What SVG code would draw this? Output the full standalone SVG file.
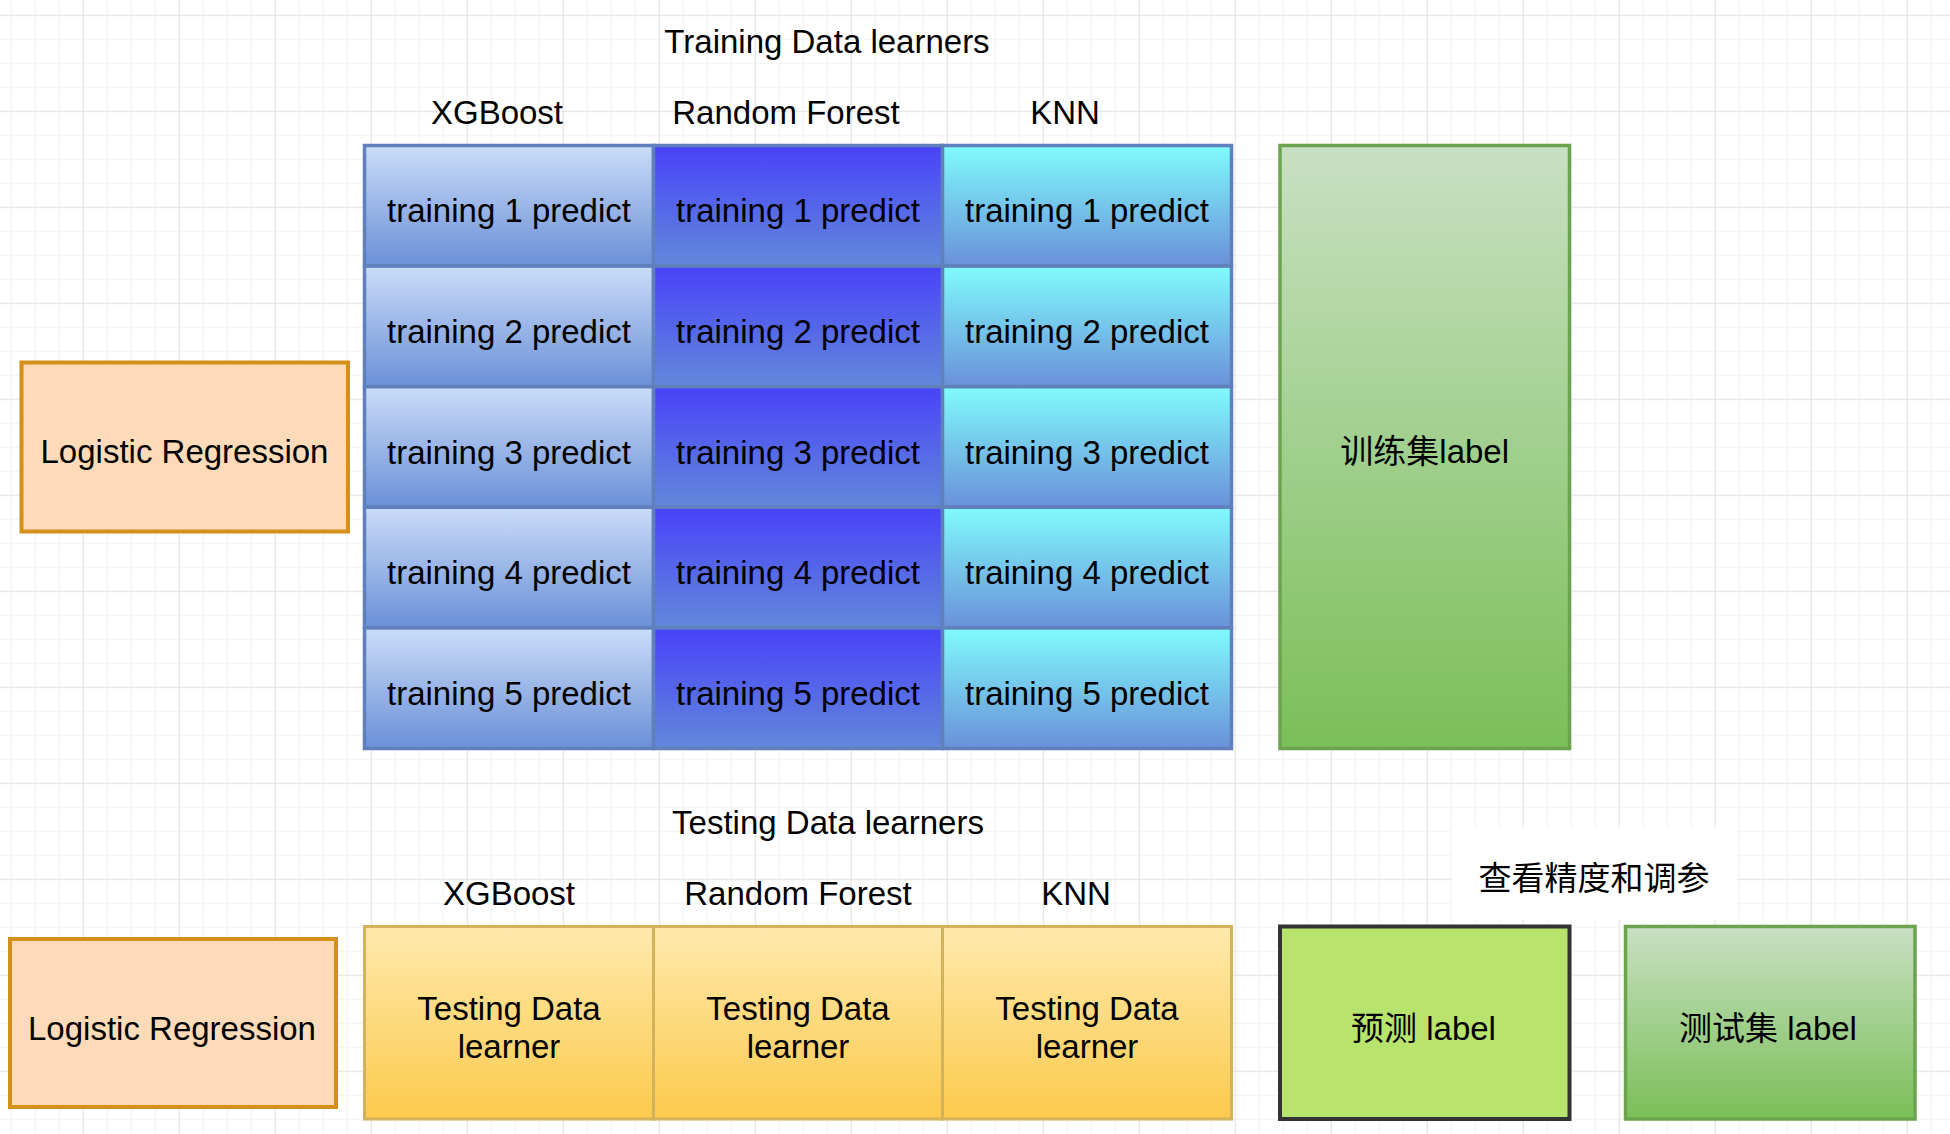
<svg xmlns="http://www.w3.org/2000/svg" width="1950" height="1134" viewBox="0 0 1950 1134">
<defs>
<pattern id="grid" patternUnits="userSpaceOnUse" x="-13.3" y="14.7" width="96" height="96">
<rect x="0" y="0" width="96" height="96" fill="#ffffff"/>
<rect x="24" y="0" width="1.2" height="96" fill="#f3f3f3"/>
<rect x="48" y="0" width="1.2" height="96" fill="#f3f3f3"/>
<rect x="72" y="0" width="1.2" height="96" fill="#f3f3f3"/>
<rect x="0" y="24" width="96" height="1.2" fill="#f3f3f3"/>
<rect x="0" y="48" width="96" height="1.2" fill="#f3f3f3"/>
<rect x="0" y="72" width="96" height="1.2" fill="#f3f3f3"/>
<rect x="0" y="0" width="1.2" height="96" fill="#e4e4e4"/>
<rect x="0" y="0" width="96" height="1.2" fill="#e4e4e4"/>
</pattern>
<linearGradient id="gXgb" x1="0" y1="0" x2="0" y2="1"><stop offset="0" stop-color="#cadcf7"/><stop offset="1" stop-color="#6b90d8"/></linearGradient>
<linearGradient id="gRf" x1="0" y1="0" x2="0" y2="1"><stop offset="0" stop-color="#4842f9"/><stop offset="1" stop-color="#6289da"/></linearGradient>
<linearGradient id="gKnn" x1="0" y1="0" x2="0" y2="1"><stop offset="0" stop-color="#80fbfc"/><stop offset="1" stop-color="#6a90da"/></linearGradient>
<linearGradient id="gGreen" x1="0" y1="0" x2="0" y2="1"><stop offset="0" stop-color="#c8e0c3"/><stop offset="1" stop-color="#7bbf58"/></linearGradient>
<linearGradient id="gTest" x1="0" y1="0" x2="0" y2="1"><stop offset="0" stop-color="#fee9ad"/><stop offset="1" stop-color="#fcca4c"/></linearGradient>
</defs>
<style>
text { font-family: "Liberation Sans", "Noto Sans CJK SC", sans-serif; font-size: 33px; fill: #000; text-anchor: middle; }
.cell { stroke: #5f80bb; stroke-width: 3.5; }
.xgb { fill: url(#gXgb); }
.rf { fill: url(#gRf); }
.knn { fill: url(#gKnn); }
.lr { fill: #fddbb8; stroke: #d4901a; stroke-width: 4; }
.green { fill: url(#gGreen); stroke: #6ca34f; stroke-width: 3.5; }
.test { fill: url(#gTest); stroke: #d2b25a; stroke-width: 3; }
.pred { fill: #b8e36d; stroke: #333333; stroke-width: 4; }
</style>
<rect x="0" y="0" width="1950" height="1134" fill="url(#grid)"/>

<g id="labels">
<text x="827" y="52.5">Training Data learners</text>
<text x="497" y="124">XGBoost</text>
<text x="786" y="124">Random Forest</text>
<text x="1065" y="124">KNN</text>
<text x="828" y="834">Testing Data learners</text>
<text x="509" y="905">XGBoost</text>
<text x="798" y="905">Random Forest</text>
<text x="1076" y="905">KNN</text>
</g>

<g id="lr-train">
<rect class="lr" x="21.5" y="362.5" width="326.5" height="169"/>
<text x="184.5" y="463">Logistic Regression</text>
</g>

<g id="training-table">
<g id="xgb-1"><rect class="cell xgb" x="364.5" y="145.5" width="289" height="120.6"/><text x="509" y="222.3">training 1 predict</text></g>
<g id="xgb-2"><rect class="cell xgb" x="364.5" y="266.1" width="289" height="120.6"/><text x="509" y="342.9">training 2 predict</text></g>
<g id="xgb-3"><rect class="cell xgb" x="364.5" y="386.7" width="289" height="120.6"/><text x="509" y="463.5">training 3 predict</text></g>
<g id="xgb-4"><rect class="cell xgb" x="364.5" y="507.3" width="289" height="120.6"/><text x="509" y="584.1">training 4 predict</text></g>
<g id="xgb-5"><rect class="cell xgb" x="364.5" y="627.9" width="289" height="120.6"/><text x="509" y="704.7">training 5 predict</text></g>

<g id="rf-1"><rect class="cell rf" x="653.5" y="145.5" width="289" height="120.6"/><text x="798" y="222.3">training 1 predict</text></g>
<g id="rf-2"><rect class="cell rf" x="653.5" y="266.1" width="289" height="120.6"/><text x="798" y="342.9">training 2 predict</text></g>
<g id="rf-3"><rect class="cell rf" x="653.5" y="386.7" width="289" height="120.6"/><text x="798" y="463.5">training 3 predict</text></g>
<g id="rf-4"><rect class="cell rf" x="653.5" y="507.3" width="289" height="120.6"/><text x="798" y="584.1">training 4 predict</text></g>
<g id="rf-5"><rect class="cell rf" x="653.5" y="627.9" width="289" height="120.6"/><text x="798" y="704.7">training 5 predict</text></g>

<g id="knn-1"><rect class="cell knn" x="942.5" y="145.5" width="289" height="120.6"/><text x="1087" y="222.3">training 1 predict</text></g>
<g id="knn-2"><rect class="cell knn" x="942.5" y="266.1" width="289" height="120.6"/><text x="1087" y="342.9">training 2 predict</text></g>
<g id="knn-3"><rect class="cell knn" x="942.5" y="386.7" width="289" height="120.6"/><text x="1087" y="463.5">training 3 predict</text></g>
<g id="knn-4"><rect class="cell knn" x="942.5" y="507.3" width="289" height="120.6"/><text x="1087" y="584.1">training 4 predict</text></g>
<g id="knn-5"><rect class="cell knn" x="942.5" y="627.9" width="289" height="120.6"/><text x="1087" y="704.7">training 5 predict</text></g>
</g>

<g id="train-label">
<rect class="green" x="1280" y="145.5" width="289.5" height="603"/>
<text x="1424.7" y="463">训练集label</text>
</g>

<g id="lr-test">
<rect class="lr" x="10" y="939" width="326" height="168"/>
<text x="172" y="1040">Logistic Regression</text>
</g>

<g id="test-xgb">
<rect class="test" x="364.5" y="926.5" width="289" height="192.5"/>
<text x="509" y="1019.5">Testing Data</text>
<text x="509" y="1057.5">learner</text>
</g>
<g id="test-rf">
<rect class="test" x="653.5" y="926.5" width="289" height="192.5"/>
<text x="798" y="1019.5">Testing Data</text>
<text x="798" y="1057.5">learner</text>
</g>
<g id="test-knn">
<rect class="test" x="942.5" y="926.5" width="289" height="192.5"/>
<text x="1087" y="1019.5">Testing Data</text>
<text x="1087" y="1057.5">learner</text>
</g>

<g id="check-label">
<rect x="1452" y="827" width="285" height="93" fill="#ffffff"/>
<text x="1594" y="890">查看精度和调参</text>
</g>

<g id="pred-label">
<rect class="pred" x="1280" y="926.5" width="289.5" height="192.5"/>
<text x="1423.5" y="1040">预测 label</text>
</g>

<g id="test-label">
<rect class="green" x="1625.5" y="926.5" width="289.5" height="192.5"/>
<text x="1768" y="1040">测试集 label</text>
</g>

<g id="connectors"></g>
</svg>
